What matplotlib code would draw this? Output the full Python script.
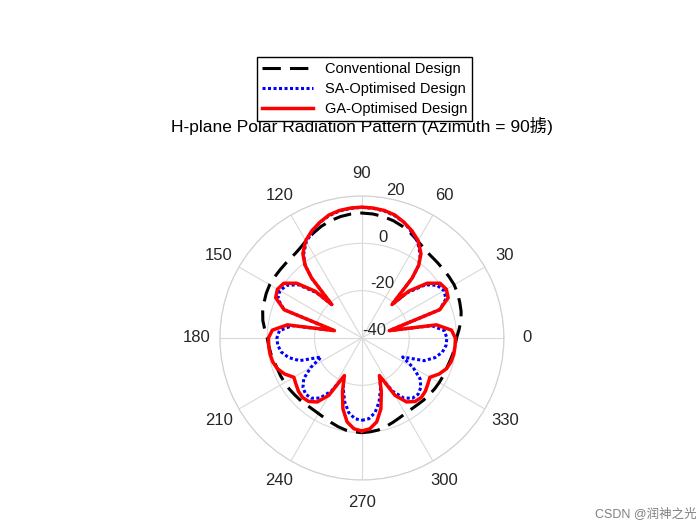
import numpy as np
import matplotlib.pyplot as plt

plt.rcParams['font.family'] = ['Liberation Sans', 'Noto Sans CJK SC', 'DejaVu Sans']
plt.rcParams['axes.unicode_minus'] = False

# right half of the pattern (deg from -90 to 90), mirrored about 90 deg
ang_half = [-90, -85, -80, -75, -70, -65, -60, -55, -50, -45, -40, -35, -30, -25, -20, -15,
            -10, -5, 0, 5, 10, 15, 20, 25, 30, 35, 40, 45, 48, 50, 52, 55, 60, 65, 70, 75, 80, 85, 90]
conv_db = [0, -0.2, -0.5, -1.2, -2, -2.7, -3.2, -3.4, -3.3, -3, -2.8, -2.5, -2.3, -2.1, -2, -1.6,
           -1, -0.5, 0, 1.2, 2.5, 3.4, 4, 4.6, 5, 5, 5, 5.1, 5.2, 5.3, 5.5, 6, 7.3, 8.8, 10.2, 11.3, 12.1, 12.6, 12.8]
sa_db = [-5.2, -5.8, -8, -12, -17, -22, -14, -9, -6.8, -6.4, -7.5, -10, -15, -21, -12, -8,
         -5.5, -4.3, -4.1, -5, -10, -28, -5, -0.8, 0, -1.2, -5, -13, -21, -7, -1, 3, 7, 9.5, 12, 13.5, 14.5, 15, 15.2]
ga_db = [-0.7, -1.5, -4, -9, -16, -22.5, -12, -7, -5, -4.5, -5, -6, -6.8, -4, -2, -1,
         -0.6, -0.5, -0.5, -2, -8, -28, -5, 0.2, 1.2, 0.3, -4, -12, -21, -7, -1, 3.5, 7.5, 10, 12, 13.8, 14.7, 15.1, 15.3]
theta_ticks = list(range(0, 360, 30))
r_ticks = [-40, -20, 0, 20]

def full(vals):
    a = np.array(ang_half, dtype=float)
    v = np.array(vals, dtype=float)
    a_all = np.concatenate([a, 180 - a[::-1][1:]])
    v_all = np.concatenate([v, v[::-1][1:]])
    return np.deg2rad(a_all), v_all

fig = plt.figure(figsize=(7, 5.25), dpi=100)
ax = fig.add_axes([0.314, 0.0857, 0.406, 0.541], projection='polar')

t, r = full(conv_db)
ax.plot(t, r, color='black', linestyle=(0, (6, 3)), lw=2.2, label='Conventional Design')
t, r = full(sa_db)
ax.plot(t, r, color='blue', linestyle=(0, (1, 0.8)), lw=2.2, label='SA-Optimised Design')
t, r = full(ga_db)
ax.plot(t, r, color='red', lw=2.5, label='GA-Optimised Design')

ax.set_rlim(-40, 20)
ax.set_rticks(r_ticks)
ax.set_yticklabels([str(v) for v in r_ticks])
ax.set_rlabel_position(80)
ax.set_thetagrids(theta_ticks, labels=[str(v) for v in theta_ticks])
ax.tick_params(labelsize=12, colors='#262626', pad=6)
ax.grid(color='#d9d9d9', lw=0.8)
ax.spines['polar'].set_color('#d0d0d0')

ax.set_title('H-plane Polar Radiation Pattern (Azimuth = 90掳)', fontsize=12.5, pad=24)
fig.legend(loc='upper center', bbox_to_anchor=(0.521, 0.905), fancybox=False,
           edgecolor='black', fontsize=10.5, handlelength=3.5, borderpad=0.35,
           labelspacing=0.4, framealpha=1)
fig.text(0.995, 0.01, 'CSDN @润神之光', ha='right', va='bottom', fontsize=9, color='#808080')

fig.savefig('out.png')
